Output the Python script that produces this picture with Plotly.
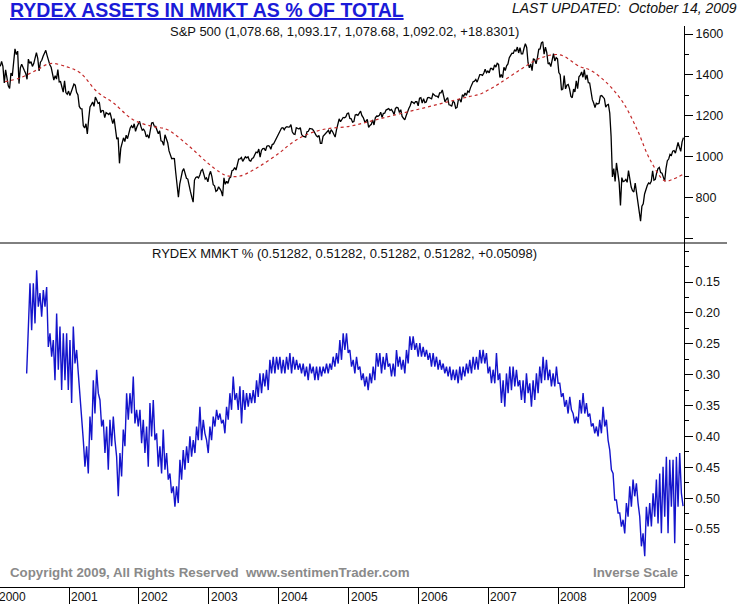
import pandas as pd
import plotly.graph_objects as go

# ---------------- S&P 500 weekly closes ----------------
sp_2000 = [1441, 1465, 1441, 1360, 1424, 1387, 1346, 1333, 1409, 1395, 1464, 1527, 1499,
           1516, 1357, 1434, 1452, 1433, 1421, 1407, 1378, 1477, 1456, 1464, 1441, 1455,
           1478, 1509, 1480, 1419, 1462, 1471, 1491, 1506, 1520, 1494, 1466, 1449, 1437,
           1408, 1374, 1396, 1379, 1426, 1365, 1367, 1341, 1315, 1370, 1313, 1305, 1320]
sp_2001 = [1298, 1318, 1342, 1354, 1349, 1314, 1301, 1245, 1234, 1233, 1150, 1139, 1160,
           1110, 1183, 1242, 1254, 1267, 1245, 1291, 1277, 1260, 1264, 1214, 1225, 1224,
           1190, 1215, 1210, 1205, 1214, 1190, 1161, 1185, 1133, 1085, 1092, 966, 1041,
           1071, 1091, 1073, 1104, 1087, 1120, 1139, 1150, 1139, 1160, 1123, 1144, 1161]
sp_2002 = [1172, 1146, 1128, 1133, 1122, 1096, 1104, 1089, 1131, 1164, 1166, 1148, 1147,
           1122, 1111, 1125, 1076, 1073, 1054, 1106, 1083, 1067, 1027, 1007, 989, 990,
           989, 921, 847, 800, 864, 908, 928, 940, 916, 893, 889, 846, 827,
           800, 776, 884, 897, 900, 894, 909, 930, 936, 906, 889, 895, 875]
sp_2003 = [909, 927, 901, 861, 856, 829, 834, 851, 841, 829, 805, 895, 863,
           878, 868, 893, 898, 930, 933, 946, 933, 964, 987, 988, 995, 976,
           985, 998, 993, 998, 980, 977, 990, 993, 1008, 1021, 1018, 1036, 996,
           1029, 1038, 1039, 1028, 1050, 1053, 1050, 1035, 1058, 1061, 1074, 1088, 1095]
sp_2004 = [1108, 1122, 1139, 1141, 1131, 1142, 1146, 1144, 1145, 1156, 1121, 1110, 1108,
           1141, 1139, 1134, 1141, 1107, 1099, 1096, 1094, 1121, 1123, 1137, 1135, 1134,
           1125, 1112, 1101, 1096, 1102, 1064, 1064, 1099, 1107, 1113, 1123, 1128, 1110,
           1131, 1122, 1109, 1095, 1130, 1167, 1184, 1170, 1183, 1191, 1189, 1194, 1210, 1212]
sp_2005 = [1186, 1184, 1168, 1171, 1203, 1205, 1201, 1211, 1222, 1200, 1190, 1172, 1172,
           1182, 1142, 1152, 1157, 1179, 1154, 1189, 1198, 1197, 1201, 1217, 1191, 1211,
           1212, 1227, 1230, 1234, 1226, 1230, 1220, 1205, 1235, 1241, 1237, 1215, 1229,
           1196, 1187, 1179, 1199, 1220, 1235, 1248, 1268, 1265, 1259, 1268, 1268, 1248]
sp_2006 = [1285, 1288, 1261, 1283, 1264, 1267, 1287, 1289, 1287, 1282, 1307, 1302, 1295,
           1295, 1289, 1311, 1311, 1326, 1292, 1267, 1280, 1288, 1253, 1252, 1245, 1270,
           1265, 1236, 1240, 1278, 1280, 1266, 1302, 1295, 1311, 1299, 1320, 1315, 1336,
           1350, 1366, 1369, 1377, 1364, 1381, 1401, 1401, 1397, 1409, 1427, 1410, 1418]
sp_2007 = [1410, 1431, 1431, 1423, 1449, 1438, 1456, 1451, 1387, 1402, 1386, 1437, 1421,
           1444, 1453, 1484, 1495, 1506, 1505, 1523, 1515, 1536, 1507, 1533, 1503, 1503,
           1530, 1553, 1534, 1459, 1434, 1453, 1420, 1479, 1474, 1454, 1484, 1525, 1527,
           1557, 1562, 1501, 1536, 1509, 1453, 1458, 1440, 1481, 1504, 1468, 1484, 1478]
sp_2008 = [1411, 1401, 1325, 1331, 1396, 1331, 1349, 1353, 1331, 1294, 1288, 1330, 1316,
           1370, 1332, 1390, 1398, 1414, 1388, 1425, 1376, 1400, 1361, 1360, 1318, 1278,
           1262, 1240, 1261, 1257, 1260, 1296, 1298, 1292, 1283, 1242, 1252, 1255, 1213,
           1099, 899, 940, 877, 968, 930, 873, 760, 896, 876, 879, 887, 873]
sp_2009 = [931, 890, 850, 832, 826, 869, 827, 770, 735, 683, 756, 768, 816,
           843, 857, 870, 866, 878, 929, 883, 887, 919, 940, 946, 921, 918,
           896, 879, 941, 979, 987, 1010, 1005, 1026, 1029, 1016, 1042, 1068, 1045,
           1025, 1071, 1092]

# ---------------- S&P moving average ----------------
ma_dates = ['2000-02-01', '2000-04-19', '2000-07-17', '2000-09-23', '2000-12-21',
            '2001-02-27', '2001-05-27', '2001-08-19', '2001-12-01', '2002-03-15',
            '2002-05-27', '2002-09-09', '2002-12-22', '2003-02-28', '2003-04-06',
            '2003-06-13', '2003-09-25', '2004-01-07', '2004-02-29', '2004-05-07',
            '2004-08-19', '2005-01-08', '2005-04-22', '2005-08-05', '2005-11-17',
            '2006-03-01', '2006-06-14', '2006-09-26', '2006-11-17', '2007-01-09',
            '2007-03-02', '2007-06-15', '2007-09-27', '2008-01-09', '2008-04-23',
            '2008-06-15', '2008-09-12', '2008-12-04', '2009-02-16', '2009-04-24',
            '2009-07-11', '2009-08-22', '2009-10-13']
ma_vals = [1366, 1385, 1424, 1455, 1439,
           1410, 1317, 1263, 1180, 1146,
           1132, 1059, 971, 922, 905,
           904, 953, 1019, 1059, 1099,
           1132, 1148, 1172, 1197, 1221,
           1245, 1270, 1294, 1305, 1330,
           1359, 1424, 1481, 1498, 1440,
           1424, 1359, 1265, 1132, 985,
           880, 888, 912]

# ---------------- Rydex MMKT % ----------------
rydex_2000_2003 = [
    0.298, 0.206, 0.152, 0.228, 0.152, 0.217, 0.131, 0.190, 0.168, 0.206,
    0.163, 0.190, 0.158, 0.255, 0.233, 0.271, 0.244, 0.309, 0.201, 0.292,
    0.222, 0.325, 0.233, 0.309, 0.233, 0.325, 0.244, 0.346, 0.222, 0.282,
    0.260, 0.298, 0.330, 0.373, 0.406, 0.449, 0.416, 0.460, 0.368, 0.406,
    0.309, 0.363, 0.292, 0.330, 0.341, 0.384, 0.373, 0.427, 0.384, 0.454,
    0.373, 0.416, 0.368, 0.406, 0.433, 0.497, 0.427, 0.465, 0.389, 0.416,
    0.330, 0.373, 0.330, 0.363, 0.303, 0.379, 0.357, 0.384, 0.357, 0.411,
    0.373, 0.427, 0.384, 0.449, 0.346, 0.400, 0.341, 0.406, 0.395, 0.449,
    0.416, 0.460, 0.389, 0.454, 0.427, 0.470, 0.460, 0.492, 0.481, 0.514,
    0.481, 0.508, 0.438, 0.470, 0.422, 0.454, 0.416, 0.443, 0.400, 0.433,
    0.406, 0.427, 0.384, 0.406, 0.352, 0.406, 0.373, 0.395, 0.406, 0.427,
    0.384, 0.406, 0.368, 0.384, 0.357, 0.373, 0.363, 0.379, 0.373, 0.395,
    0.352, 0.373, 0.330, 0.357, 0.303, 0.341, 0.330, 0.357]
rydex_2003_2006 = [
    0.319, 0.379, 0.325, 0.357, 0.330, 0.352, 0.330, 0.346, 0.325, 0.346,
    0.309, 0.336, 0.298, 0.330, 0.298, 0.319, 0.292, 0.325, 0.276, 0.298,
    0.271, 0.298, 0.271, 0.292, 0.271, 0.298, 0.276, 0.298, 0.271, 0.292,
    0.265, 0.298, 0.271, 0.292, 0.276, 0.292, 0.282, 0.298, 0.282, 0.303,
    0.287, 0.309, 0.282, 0.298, 0.287, 0.309, 0.287, 0.309, 0.287, 0.303,
    0.287, 0.298, 0.282, 0.298, 0.282, 0.292, 0.271, 0.287, 0.265, 0.282,
    0.244, 0.276, 0.233, 0.260, 0.233, 0.265, 0.260, 0.287, 0.276, 0.298,
    0.271, 0.292, 0.287, 0.309, 0.298, 0.319, 0.303, 0.325, 0.298, 0.314,
    0.287, 0.309, 0.265, 0.287, 0.265, 0.298, 0.271, 0.292, 0.265, 0.287,
    0.282, 0.303, 0.282, 0.303, 0.260, 0.287, 0.271, 0.292, 0.276, 0.298,
    0.260, 0.282, 0.238, 0.260, 0.238, 0.260, 0.249, 0.271, 0.249, 0.271,
    0.255, 0.271, 0.260, 0.276, 0.265, 0.287, 0.265, 0.287, 0.271, 0.292,
    0.276, 0.292, 0.282, 0.298, 0.287, 0.303, 0.287, 0.309, 0.292, 0.309,
    0.292, 0.314, 0.287, 0.309, 0.287, 0.303, 0.282, 0.298, 0.276, 0.298,
    0.271, 0.292, 0.271, 0.292, 0.260, 0.282]
rydex_2006_2009 = [
    0.260, 0.282, 0.265, 0.298, 0.287, 0.314, 0.292, 0.314, 0.265, 0.309,
    0.298, 0.346, 0.309, 0.352, 0.298, 0.330, 0.287, 0.325, 0.287, 0.319,
    0.292, 0.319, 0.309, 0.341, 0.309, 0.346, 0.298, 0.330, 0.314, 0.352,
    0.309, 0.341, 0.298, 0.330, 0.287, 0.314, 0.271, 0.309, 0.276, 0.309,
    0.292, 0.319, 0.298, 0.319, 0.287, 0.314, 0.314, 0.336, 0.330, 0.352,
    0.341, 0.363, 0.336, 0.357, 0.363, 0.379, 0.368, 0.379, 0.341, 0.363,
    0.330, 0.363, 0.346, 0.368, 0.363, 0.384, 0.379, 0.395, 0.384, 0.400,
    0.373, 0.395, 0.352, 0.384, 0.373, 0.406, 0.422, 0.454, 0.460, 0.503,
    0.503, 0.524, 0.524, 0.546, 0.535, 0.557, 0.508, 0.530, 0.481, 0.514,
    0.470, 0.497, 0.476, 0.508, 0.530, 0.578, 0.557, 0.594, 0.514, 0.546,
    0.508, 0.546, 0.492, 0.530, 0.470, 0.541, 0.460, 0.557, 0.449, 0.530,
    0.433, 0.557, 0.438, 0.514, 0.438, 0.573, 0.433, 0.514, 0.427, 0.492,
    0.513]

years = list(range(2000, 2010))
year_labels = [str(y) for y in years]
sp_tickvals = [600, 800, 1000, 1200, 1400, 1600]
sp_ticktext = ['', '800', '1000', '1200', '1400', '1600']
ry_tickvals = [0.15, 0.20, 0.25, 0.30, 0.35, 0.40, 0.45, 0.50, 0.55]
ry_ticktext = ['0.15', '0.20', '0.25', '0.30', '0.35', '0.40', '0.45', '0.50', '0.55']

sp_vals = sp_2000 + sp_2001 + sp_2002 + sp_2003 + sp_2004 + sp_2005 + sp_2006 + sp_2007 + sp_2008 + sp_2009
sp_dates = pd.date_range('2000-01-07', periods=len(sp_vals), freq='W-FRI')
ry_vals = rydex_2000_2003 + rydex_2003_2006 + rydex_2006_2009
ry_dates = pd.date_range('2000-05-24', '2009-10-14', periods=len(ry_vals))

# ---------------- layout geometry ----------------
W, H = 742, 608
L, R, T, B = 0, 58, 26, 21
plot_h = H - T - B
sep_px = 243
split = (H - B - sep_px) / plot_h
xrange_ = ['2000-01-05 17:00', '2009-10-19']
sp_top = 1600 + (34 - T) / 0.204

FONT = 'Liberation Sans, Arial, sans-serif'

fig = go.Figure()
fig.add_trace(go.Scatter(x=sp_dates, y=sp_vals, mode='lines',
                         line=dict(color='black', width=1.3), xaxis='x', yaxis='y',
                         hoverinfo='skip'))
fig.add_trace(go.Scatter(x=pd.to_datetime(ma_dates), y=ma_vals, mode='lines',
                         line=dict(color='#c42a2a', width=1.2, dash='dot', shape='spline'),
                         xaxis='x', yaxis='y', hoverinfo='skip'))
fig.add_trace(go.Scatter(x=ry_dates, y=ry_vals, mode='lines',
                         line=dict(color='#1414cc', width=1.4), xaxis='x2', yaxis='y2',
                         hoverinfo='skip'))

axis_common = dict(showgrid=False, zeroline=False, automargin=False)
fig.update_layout(
    width=W, height=H,
    margin=dict(l=L, r=R, t=T, b=B, pad=0),
    paper_bgcolor='white', plot_bgcolor='white',
    showlegend=False,
    xaxis=dict(domain=[0, 1], anchor='y', type='date', range=xrange_, visible=False, **axis_common),
    yaxis=dict(domain=[split, 1], anchor='x', side='right', range=[575.5, sp_top],
               tickmode='array', tickvals=sp_tickvals, ticktext=sp_ticktext,
               ticks='outside', ticklen=8, tickcolor='black', showline=True,
               linecolor='black', linewidth=1,
               tickfont=dict(family=FONT, size=12.5, color='#111'),
               minor=dict(dtick=100, tick0=0, ticks='outside', ticklen=4, tickcolor='black'),
               **axis_common),
    xaxis2=dict(domain=[0, 1], anchor='y2', type='date', range=xrange_,
                tickmode='array', tickvals=[f'{y}-01-01' for y in years],
                showticklabels=False, ticks='outside', ticklen=16, tickcolor='black',
                showline=True, linecolor='black', linewidth=1, **axis_common),
    yaxis2=dict(domain=[0, split], anchor='x2', side='right', range=[0.6439, 0.0868],
                tickmode='array', tickvals=ry_tickvals, ticktext=ry_ticktext,
                ticks='outside', ticklen=8, tickcolor='black', showline=True,
                linecolor='black', linewidth=1,
                tickfont=dict(family=FONT, size=12.5, color='#111'),
                minor=dict(dtick=0.025, tick0=0, ticks='outside', ticklen=4, tickcolor='black'),
                **axis_common),
)

def py(pix):
    return (H - B - pix) / plot_h

def px(pix):
    return pix / (W - L - R)

ann = []
ann.append(dict(text='<u><b>RYDEX ASSETS IN MMKT AS % OF TOTAL</b></u>', x=px(8), y=py(10),
                xref='paper', yref='paper', xanchor='left', yanchor='middle', showarrow=False,
                font=dict(family=FONT, size=19.5, color='#1a1ad8')))
ann.append(dict(text='<i>LAST UPDATED:  October 14, 2009</i>', x=px(739), y=py(8),
                xref='paper', yref='paper', xanchor='right', yanchor='middle', showarrow=False,
                font=dict(family=FONT, size=14, color='#111')))
ann.append(dict(text='S&P 500 (1,078.68, 1,093.17, 1,078.68, 1,092.02, +18.8301)', x=px(344), y=py(31),
                xref='paper', yref='paper', xanchor='center', yanchor='middle', showarrow=False,
                font=dict(family=FONT, size=13, color='#111')))
ann.append(dict(text='RYDEX MMKT % (0.51282, 0.51282, 0.51282, 0.51282, +0.05098)', x=px(344), y=py(254),
                xref='paper', yref='paper', xanchor='center', yanchor='middle', showarrow=False,
                font=dict(family=FONT, size=13, color='#111')))
ann.append(dict(text='<b>Copyright 2009, All Rights Reserved  www.sentimenTrader.com</b>', x=px(8), y=py(572),
                xref='paper', yref='paper', xanchor='left', yanchor='middle', showarrow=False,
                font=dict(family=FONT, size=13.3, color='#8a8a8a')))
ann.append(dict(text='<b>Inverse Scale</b>', x=px(680), y=py(572),
                xref='paper', yref='paper', xanchor='right', yanchor='middle', showarrow=False,
                font=dict(family=FONT, size=13.3, color='#8a8a8a')))
# first year label sits at the very left edge (partly cut in the original)
ann.append(dict(text=year_labels[0], x=0, xref='paper', y=py(597), yref='paper',
                xanchor='left', yanchor='middle', xshift=-3, showarrow=False,
                font=dict(family=FONT, size=12, color='#111')))
for y, lab in zip(years[1:], year_labels[1:]):
    ann.append(dict(text=lab, x=f'{y}-01-01', xref='x2', y=py(597), yref='paper',
                    xanchor='left', yanchor='middle', xshift=0, showarrow=False,
                    font=dict(family=FONT, size=12, color='#111')))
fig.update_layout(annotations=ann)

fig.add_shape(type='line', xref='paper', yref='paper', x0=0, x1=px(727), y0=split, y1=split,
              line=dict(color='black', width=1))

fig.write_html('out.html', config={'displayModeBar': False})
